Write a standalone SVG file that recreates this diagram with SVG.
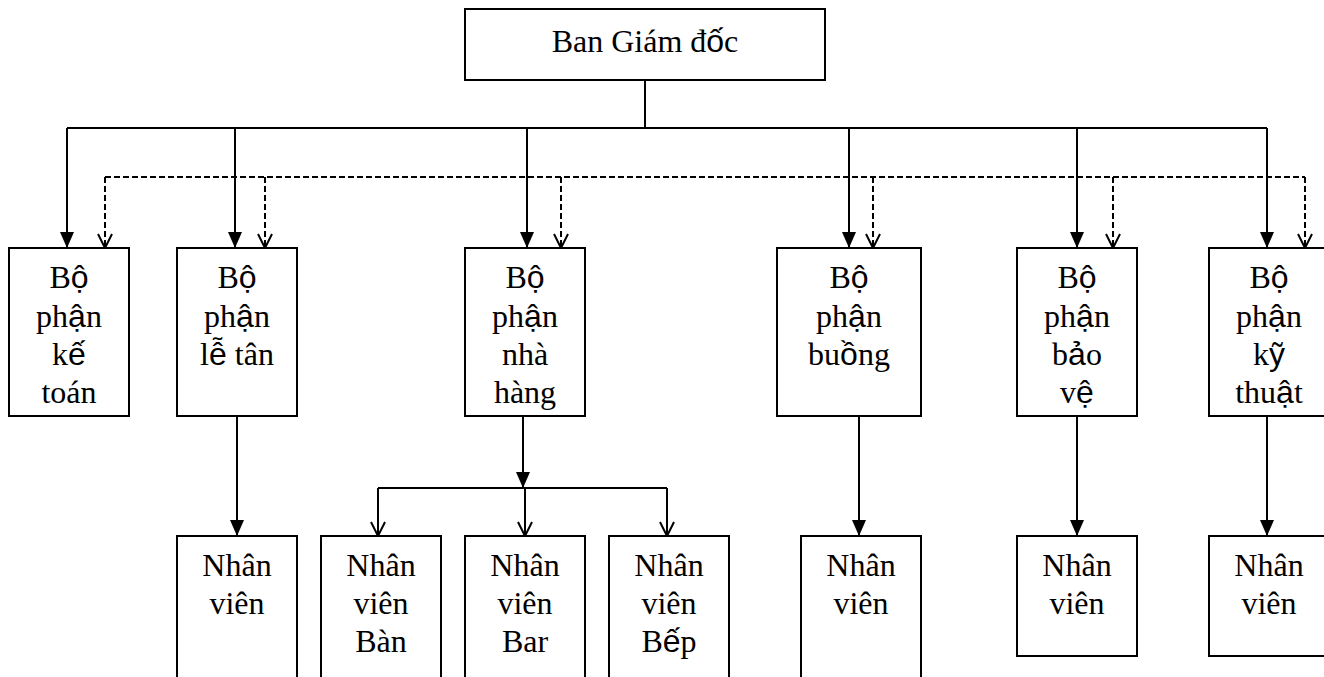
<svg xmlns="http://www.w3.org/2000/svg" width="1324" height="677" viewBox="0 0 1324 677">
<style>
  .box { fill: #fff; stroke: #000; stroke-width: 2; }
  .ln { fill: none; stroke: #000; stroke-width: 2; }
  .dash { fill: none; stroke: #000; stroke-width: 2; stroke-dasharray: 6 3; }
  text { font-family: "Liberation Serif", "Times New Roman", serif; font-size: 32px; fill: #000; text-anchor: middle; }
  .s { font-family: "Liberation Sans", Arial, sans-serif; }
</style>
<defs>
  <marker id="fill" viewBox="0 0 16 14" refX="16" refY="7" markerWidth="16" markerHeight="14" markerUnits="userSpaceOnUse" orient="auto">
    <path d="M0,0 L16,7 L0,14 z" fill="#000"/>
  </marker>
  <marker id="open" viewBox="-1 -1 16 16" refX="14" refY="7" markerWidth="16" markerHeight="16" markerUnits="userSpaceOnUse" orient="auto">
    <path d="M0,0 L14,7 L0,14" fill="none" stroke="#000" stroke-width="2" stroke-dasharray="none"/>
  </marker>
</defs>
<rect width="1324" height="677" fill="#fff"/>

<g id="connectors">
  <path class="ln" d="M645,80 V128"/>
  <path class="ln" d="M67,128 H1267"/>
  <path class="ln" d="M67,128 V248" marker-end="url(#fill)"/>
  <path class="ln" d="M235,128 V248" marker-end="url(#fill)"/>
  <path class="ln" d="M527,128 V248" marker-end="url(#fill)"/>
  <path class="ln" d="M849,128 V248" marker-end="url(#fill)"/>
  <path class="ln" d="M1077,128 V248" marker-end="url(#fill)"/>
  <path class="ln" d="M1267,128 V248" marker-end="url(#fill)"/>
  <path class="dash" d="M105,177 H1305"/>
  <path class="dash" d="M105,177 V248" marker-end="url(#open)"/>
  <path class="dash" d="M265,177 V248" marker-end="url(#open)"/>
  <path class="dash" d="M561,177 V248" marker-end="url(#open)"/>
  <path class="dash" d="M873,177 V248" marker-end="url(#open)"/>
  <path class="dash" d="M1113,177 V248" marker-end="url(#open)"/>
  <path class="dash" d="M1305,177 V248" marker-end="url(#open)"/>
  <path class="ln" d="M237,416 V536" marker-end="url(#fill)"/>
  <path class="ln" d="M523,416 V488" marker-end="url(#fill)"/>
  <path class="ln" d="M378,488 H667"/>
  <path class="ln" d="M378,488 V536" marker-end="url(#open)"/>
  <path class="ln" d="M525,488 V536" marker-end="url(#open)"/>
  <path class="ln" d="M667,488 V536" marker-end="url(#open)"/>
  <path class="ln" d="M859,416 V536" marker-end="url(#fill)"/>
  <path class="ln" d="M1077,416 V536" marker-end="url(#fill)"/>
  <path class="ln" d="M1267,416 V536" marker-end="url(#fill)"/>
</g>

<g id="ban-giam-doc">
  <rect class="box" x="465" y="9" width="360" height="71"/>
  <text x="645" y="52">Ban Giám đ<tspan class="s">ố</tspan>c</text>
</g>

<g id="bp-ke-toan">
  <rect class="box" x="9" y="248" width="120" height="168"/>
  <text x="69" y="288">B<tspan class="s">ộ</tspan></text>
  <text x="69" y="327">ph<tspan class="s">ậ</tspan>n</text>
  <text x="69" y="365">k<tspan class="s">ế</tspan></text>
  <text x="69" y="403">toán</text>
</g>

<g id="bp-le-tan">
  <rect class="box" x="177" y="248" width="120" height="168"/>
  <text x="237" y="288">B<tspan class="s">ộ</tspan></text>
  <text x="237" y="327">ph<tspan class="s">ậ</tspan>n</text>
  <text x="237" y="365">l<tspan class="s">ễ</tspan> tân</text>
</g>

<g id="bp-nha-hang">
  <rect class="box" x="465" y="248" width="120" height="168"/>
  <text x="525" y="288">B<tspan class="s">ộ</tspan></text>
  <text x="525" y="327">ph<tspan class="s">ậ</tspan>n</text>
  <text x="525" y="365">nhà</text>
  <text x="525" y="403">hàng</text>
</g>

<g id="bp-buong">
  <rect class="box" x="777" y="248" width="144" height="168"/>
  <text x="849" y="288">B<tspan class="s">ộ</tspan></text>
  <text x="849" y="327">ph<tspan class="s">ậ</tspan>n</text>
  <text x="849" y="365">bu<tspan class="s">ồ</tspan>ng</text>
</g>

<g id="bp-bao-ve">
  <rect class="box" x="1017" y="248" width="120" height="168"/>
  <text x="1077" y="288">B<tspan class="s">ộ</tspan></text>
  <text x="1077" y="327">ph<tspan class="s">ậ</tspan>n</text>
  <text x="1077" y="365">b<tspan class="s">ả</tspan>o</text>
  <text x="1077" y="403">v<tspan class="s">ệ</tspan></text>
</g>

<g id="bp-ky-thuat">
  <rect class="box" x="1209" y="248" width="120" height="168"/>
  <text x="1269" y="288">B<tspan class="s">ộ</tspan></text>
  <text x="1269" y="327">ph<tspan class="s">ậ</tspan>n</text>
  <text x="1269" y="365">k<tspan class="s">ỹ</tspan></text>
  <text x="1269" y="403">thu<tspan class="s">ậ</tspan>t</text>
</g>

<g id="nv-le-tan">
  <rect class="box" x="177" y="536" width="120" height="170"/>
  <text x="237" y="576">Nhân</text>
  <text x="237" y="614">viên</text>
</g>

<g id="nv-ban">
  <rect class="box" x="321" y="536" width="120" height="170"/>
  <text x="381" y="576">Nhân</text>
  <text x="381" y="614">viên</text>
  <text x="381" y="652">Bàn</text>
</g>

<g id="nv-bar">
  <rect class="box" x="465" y="536" width="120" height="170"/>
  <text x="525" y="576">Nhân</text>
  <text x="525" y="614">viên</text>
  <text x="525" y="652">Bar</text>
</g>

<g id="nv-bep">
  <rect class="box" x="609" y="536" width="120" height="170"/>
  <text x="669" y="576">Nhân</text>
  <text x="669" y="614">viên</text>
  <text x="669" y="652">B<tspan class="s">ế</tspan>p</text>
</g>

<g id="nv-buong">
  <rect class="box" x="801" y="536" width="120" height="170"/>
  <text x="861" y="576">Nhân</text>
  <text x="861" y="614">viên</text>
</g>

<g id="nv-bao-ve">
  <rect class="box" x="1017" y="536" width="120" height="120"/>
  <text x="1077" y="576">Nhân</text>
  <text x="1077" y="614">viên</text>
</g>

<g id="nv-ky-thuat">
  <rect class="box" x="1209" y="536" width="120" height="120"/>
  <text x="1269" y="576">Nhân</text>
  <text x="1269" y="614">viên</text>
</g>
</svg>
